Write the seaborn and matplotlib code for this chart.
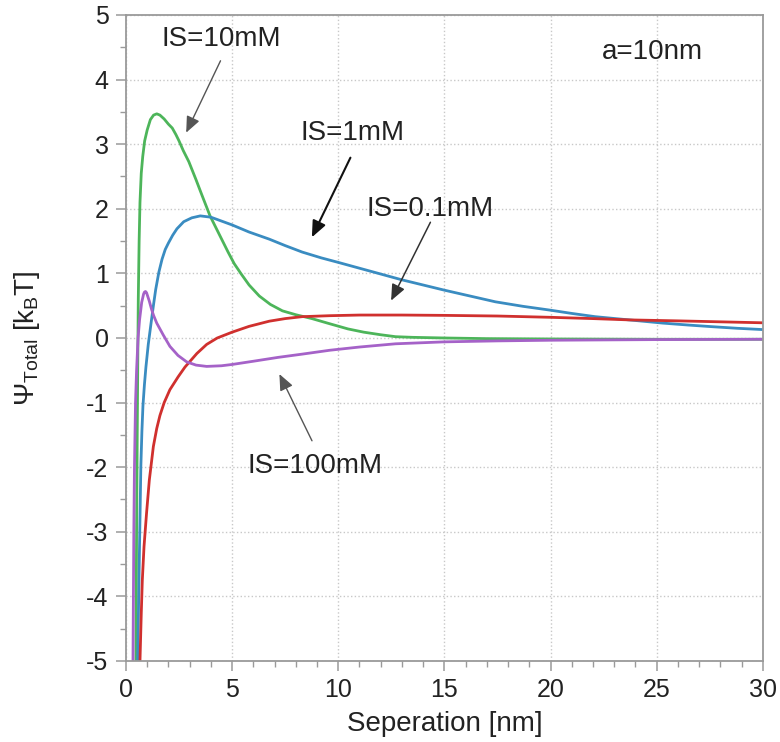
"""
Total interaction potential vs separation for several ionic strengths
"""

import pandas as pd
import matplotlib
matplotlib.use('Agg')
import matplotlib.pyplot as plt
from matplotlib.ticker import MultipleLocator
import seaborn as sns

# ---- data (separation in nm, potential in kBT) ----
x_10mM = [0.47, 0.5, 0.53, 0.56, 0.58, 0.62, 0.66, 0.72, 0.79, 0.88, 1.0, 1.15, 1.3, 1.45,
          1.6, 1.8, 2.0, 2.18, 2.35, 2.5, 2.7, 2.96, 3.3, 3.58, 3.96, 4.4, 4.81, 5.1, 5.43,
          5.8, 6.28, 6.8, 7.37, 8.0, 8.76, 9.6, 10.46, 11.2, 12.0, 12.7, 13.5, 15, 17, 20, 25, 30]
y_10mM = [-5, -3, -1.5, -0.2, 0.6, 1.5, 2.1, 2.55, 2.81, 3.05, 3.22, 3.38, 3.45, 3.47,
          3.45, 3.39, 3.31, 3.25, 3.15, 3.05, 2.9, 2.73, 2.45, 2.21, 1.89, 1.6, 1.33, 1.15, 0.99,
          0.82, 0.65, 0.52, 0.42, 0.36, 0.30, 0.22, 0.14, 0.09, 0.05, 0.02, 0.01, 0.0, -0.01,
          -0.015, -0.02, -0.02]

x_1mM = [0.55, 0.6, 0.65, 0.7, 0.75, 0.8, 0.87, 0.94, 1.05, 1.13, 1.21, 1.3, 1.4, 1.55,
         1.7, 1.85, 2.0, 2.2, 2.4, 2.72, 3.1, 3.5, 4.0, 4.5, 5.0, 5.8, 6.75, 7.5, 8.3, 9.2,
         10.0, 11.0, 12.0, 13.0, 14.0, 15.0, 16.2, 17.4, 18.7, 20.0, 21.0, 22.1, 23.7, 25.3,
         26.5, 27.6, 28.8, 30.0]
y_1mM = [-5, -4, -3, -2, -1.45, -1.05, -0.72, -0.45, -0.1, 0.1, 0.3, 0.52, 0.75, 1.02,
         1.22, 1.37, 1.47, 1.59, 1.69, 1.8, 1.86, 1.89, 1.87, 1.81, 1.75, 1.64, 1.53, 1.43, 1.33, 1.24,
         1.17, 1.08, 0.99, 0.9, 0.82, 0.74, 0.65, 0.56, 0.49, 0.43, 0.38, 0.33, 0.28, 0.23,
         0.2, 0.175, 0.15, 0.13]

x_01mM = [0.66, 0.72, 0.77, 0.85, 0.97, 1.1, 1.29, 1.45, 1.6, 1.8, 2.07, 2.46, 2.78, 3.34,
          3.8, 4.3, 5.0, 5.8, 6.75, 7.5, 8.3, 9.6, 11, 13, 15, 17.5, 20, 22, 23.7, 26, 28, 30]
y_01mM = [-5, -4.27, -3.75, -3.23, -2.71, -2.2, -1.68, -1.4, -1.2, -1.0, -0.8, -0.6, -0.45, -0.24,
          -0.1, 0.0, 0.09, 0.18, 0.26, 0.3, 0.33, 0.345, 0.355, 0.355, 0.35, 0.34, 0.32, 0.3,
          0.28, 0.265, 0.25, 0.235]

x_100mM = [0.33, 0.37, 0.4, 0.45, 0.5, 0.57, 0.64, 0.74, 0.83, 0.87, 0.92, 0.97, 1.02, 1.1,
           1.2, 1.3, 1.45, 1.75, 2.07, 2.45, 2.86, 3.3, 3.8, 4.5, 5.0, 6.0, 7.17, 8.3, 9.6, 11,
           12.7, 15, 17.5, 20, 25, 30]
y_100mM = [-5, -3, -2, -1, -0.5, 0.0, 0.28, 0.55, 0.68, 0.71, 0.72, 0.7, 0.65, 0.57,
           0.45, 0.35, 0.23, 0.05, -0.13, -0.27, -0.37, -0.42, -0.44, -0.43, -0.41, -0.36, -0.3,
           -0.25, -0.19, -0.14, -0.09, -0.06, -0.045, -0.035, -0.025, -0.02]

series = ['IS=10mM', 'IS=1mM', 'IS=0.1mM', 'IS=100mM']
colors = ['#4db55a', '#3a8cc1', '#d0302e', '#a562c8']

frames = []
for name, xs, ys in zip(series,
                        [x_10mM, x_1mM, x_01mM, x_100mM],
                        [y_10mM, y_1mM, y_01mM, y_100mM]):
    frames.append(pd.DataFrame({'sep': xs, 'psi': ys, 'IS': name}))
df = pd.concat(frames, ignore_index=True)

# ---- style ----
sns.set_style('ticks')
plt.rcParams['font.family'] = ['Liberation Sans', 'DejaVu Sans']
plt.rcParams['mathtext.fontset'] = 'custom'
plt.rcParams['mathtext.rm'] = 'Liberation Sans'
plt.rcParams['mathtext.it'] = 'Liberation Sans:italic'
plt.rcParams['axes.unicode_minus'] = False

fig = plt.figure(figsize=(7.8, 7.42), dpi=100)
ax = fig.add_axes([0.1615, 0.1092, 0.8165, 0.8706])

sns.lineplot(data=df, x='sep', y='psi', hue='IS', palette=dict(zip(series, colors)),
             sort=False, estimator=None, linewidth=2.0, legend=False, ax=ax)

ax.set_xlim(0, 30)
ax.set_ylim(-5, 5)
ax.xaxis.set_major_locator(MultipleLocator(5))
ax.xaxis.set_minor_locator(MultipleLocator(1))
ax.yaxis.set_major_locator(MultipleLocator(1))
ax.yaxis.set_minor_locator(MultipleLocator(0.5))
ax.grid(True, which='major', linestyle=':', color='#c8c8c8', linewidth=1)

for side in ['left', 'right', 'top', 'bottom']:
    ax.spines[side].set_color('#9a9a9a')
    ax.spines[side].set_linewidth(1.3)
ax.tick_params(which='major', direction='out', length=7.5, width=1.1, color='#9a9a9a',
               labelsize=18, labelcolor='#222222', pad=5)
ax.tick_params(which='minor', direction='out', length=4.5, width=1.0, color='#9a9a9a')

ax.set_xlabel('Seperation [nm]', fontsize=20, color='#222222', labelpad=6)
ax.set_ylabel(r'$\Psi_{\mathrm{Total}}$ [k$_{\mathrm{B}}$T]', fontsize=20, color='#222222')
ax.yaxis.set_label_coords(-0.132, 0.5)

# ---- labels with arrows ----
head = '-|>,head_length=0.7,head_width=0.3'
ax.text(4.47, 4.63, 'IS=10mM', fontsize=20, ha='center', va='center', color='#222222')
ax.annotate('', xy=(2.78, 3.14), xytext=(4.51, 4.33),
            arrowprops=dict(arrowstyle=head, color='#555555', lw=1.0, mutation_scale=14))
ax.text(10.65, 3.17, 'IS=1mM', fontsize=20, ha='center', va='center', color='#222222')
ax.annotate('', xy=(8.7, 1.52), xytext=(10.63, 2.83),
            arrowprops=dict(arrowstyle=head, color='#111111', lw=1.5, mutation_scale=14))
ax.text(14.32, 2.0, 'IS=0.1mM', fontsize=20, ha='center', va='center', color='#222222')
ax.annotate('', xy=(12.43, 0.54), xytext=(14.4, 1.83),
            arrowprops=dict(arrowstyle=head, color='#333333', lw=1.1, mutation_scale=14))
ax.text(8.9, -1.98, 'IS=100mM', fontsize=20, ha='center', va='center', color='#222222')
ax.annotate('', xy=(7.17, -0.52), xytext=(8.82, -1.63),
            arrowprops=dict(arrowstyle=head, color='#555555', lw=1.0, mutation_scale=14))
ax.text(24.78, 4.43, 'a=10nm', fontsize=20, ha='center', va='center', color='#222222')

plt.savefig('out.png', dpi=100)
plt.close()
